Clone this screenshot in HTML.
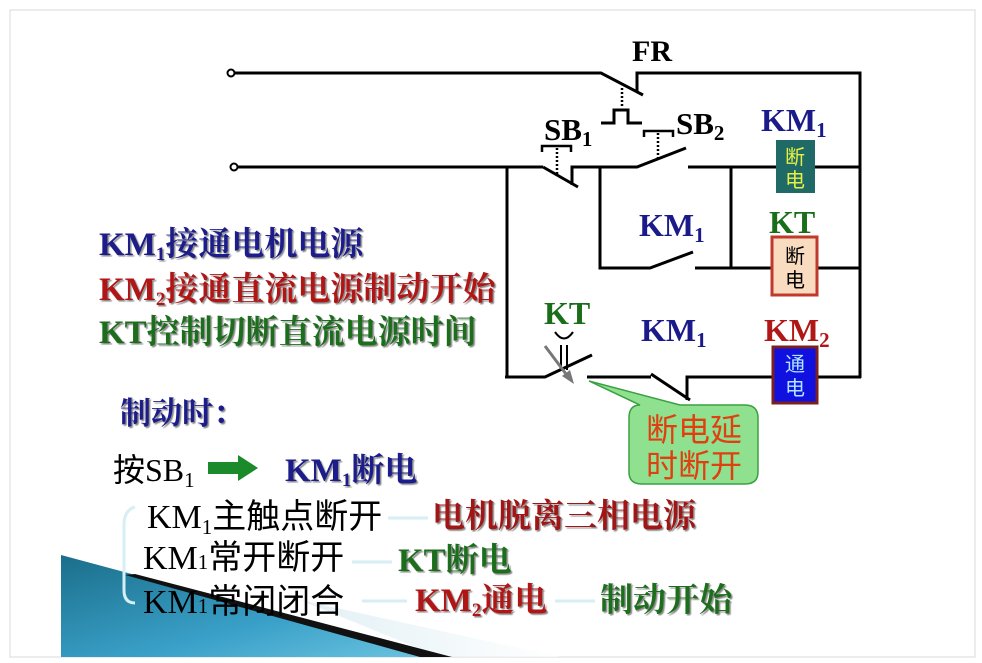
<!DOCTYPE html>
<html><head><meta charset="utf-8"><style>
body{margin:0;background:#fff}
svg{display:block}
.b{font-family:"Liberation Serif","Noto Serif CJK SC",serif;font-weight:bold}
.s{font-family:"Liberation Serif","Noto Sans CJK SC",serif}
</style></head><body>
<svg width="982" height="663" viewBox="0 0 982 663" xmlns="http://www.w3.org/2000/svg">
<defs>
<linearGradient id="bl" x1="0" y1="0" x2="1" y2="1">
<stop offset="0" stop-color="#1a6e8a"/><stop offset="0.6" stop-color="#3aa0c8"/><stop offset="1" stop-color="#6cc4e0"/></linearGradient>
<linearGradient id="wf" x1="0" y1="0" x2="1" y2="0">
<stop offset="0" stop-color="#cfe6ee"/><stop offset="1" stop-color="#ffffff"/></linearGradient>
<filter id="sh"><feDropShadow dx="1.5" dy="1.5" stdDeviation="0.5" flood-color="#555" flood-opacity="0.7"/></filter>
</defs>
<rect x="10" y="10" width="965" height="647" fill="#fff" stroke="#d8d8d8" stroke-width="1"/>
<polygon points="440,657 560,657 300,600" fill="url(#wf)" opacity="0.6"/>
<polygon points="61,555 440,657 61,657" fill="url(#bl)"/>
<polygon points="125,575 135,574 452,657 420,657" fill="#111"/>
<g stroke="#000" stroke-width="3" fill="none">
<polyline points="233,73 601,73 643,95"/>
<polyline points="637,92 637,73 860,73 860,378"/>
<polyline points="601,123 614,123 614,110 628,110 628,123 642,123"/>
<line x1="236" y1="167" x2="543" y2="167"/>
<line x1="543" y1="167" x2="578" y2="187"/>
<polyline points="572,185 572,167 637,167 686,148"/>
<line x1="688" y1="167" x2="776" y2="167"/>
<line x1="815" y1="167" x2="860" y2="167"/>
<polyline points="542,152 542,146 571,146 571,152" stroke-width="2.5"/>
<polyline points="644,137 644,131 673,131 673,137" stroke-width="2.5"/>
<line x1="507" y1="167" x2="507" y2="378"/>
<polyline points="600,167 600,268 650,268 693,252"/>
<line x1="731" y1="167" x2="731" y2="268"/>
<line x1="695" y1="268" x2="771" y2="268"/>
<line x1="818" y1="268" x2="860" y2="268"/>
<polyline points="505,377 545,377 592,355"/>
<line x1="587" y1="377" x2="651" y2="377"/>
<line x1="651" y1="374" x2="690" y2="400"/>
<polyline points="687,400 687,377 772,377"/>
<line x1="818" y1="377" x2="861" y2="377"/>
<line x1="561" y1="345" x2="561" y2="370" stroke-width="2"/>
<line x1="567" y1="345" x2="567" y2="370" stroke-width="2"/>
<path d="M555,332 Q564,345 573,332" stroke-width="2"/>
</g>
<g stroke="#000" stroke-width="2.5" stroke-dasharray="2,2">
<line x1="622" y1="88" x2="622" y2="108"/>
<line x1="557" y1="148" x2="557" y2="176"/>
<line x1="658" y1="133" x2="658" y2="158"/>
</g>
<line x1="545" y1="346" x2="569" y2="378" stroke="#777" stroke-width="3"/>
<polygon points="574,384 562,376 570,370" fill="#777"/>
<circle cx="231" cy="73" r="3.5" fill="#fff" stroke="#000" stroke-width="2"/>
<circle cx="234" cy="167" r="3.5" fill="#fff" stroke="#000" stroke-width="2"/>
<rect x="776" y="140" width="39" height="53" fill="#1f6a66"/>
<text x="795" y="164" font-size="20" fill="#e8f040" text-anchor="middle" class="s">断</text>
<text x="795" y="187" font-size="20" fill="#e8f040" text-anchor="middle" class="s">电</text>
<rect x="772" y="237" width="45" height="58" fill="#f9dcc0" stroke="#c0392b" stroke-width="3"/>
<text x="795" y="263" font-size="20" fill="#000" text-anchor="middle" class="s">断</text>
<text x="795" y="287" font-size="20" fill="#000" text-anchor="middle" class="s">电</text>
<rect x="773" y="347" width="44" height="56" fill="#1010e0" stroke="#7a2020" stroke-width="3"/>
<text x="795" y="371" font-size="20" fill="#aee8ff" text-anchor="middle" class="s">通</text>
<text x="795" y="395" font-size="20" fill="#aee8ff" text-anchor="middle" class="s">电</text>
<path d="M640,405 L589,381 L680,405 L745,405 Q758,405 758,418 L758,472 Q758,484 745,484 L642,484 Q629,484 629,472 L629,418 Q629,405 640,405 Z" fill="#8fe08f" stroke="#3aa040" stroke-width="1.5"/>
<text x="694" y="441" font-size="32" fill="#e04010" text-anchor="middle" class="s">断电延</text>
<text x="694" y="477" font-size="32" fill="#e04010" text-anchor="middle" class="s">时断开</text>
<text x="632" y="61" font-size="30" class="b">FR</text>
<text x="544" y="140" font-size="31" class="b">SB<tspan font-size="21" dy="6">1</tspan></text>
<text x="676" y="134" font-size="31" class="b">SB<tspan font-size="21" dy="6">2</tspan></text>
<text x="761" y="131" font-size="32" class="b" fill="#1a1a8a">KM<tspan font-size="21" dy="6">1</tspan></text>
<text x="769" y="233" font-size="32" class="b" fill="#1a6e1a">KT</text>
<text x="639" y="236" font-size="32" class="b" fill="#1a1a8a">KM<tspan font-size="21" dy="6">1</tspan></text>
<text x="544" y="324" font-size="32" class="b" fill="#1a6e1a">KT</text>
<text x="641" y="341" font-size="32" class="b" fill="#1a1a8a">KM<tspan font-size="21" dy="6">1</tspan></text>
<text x="764" y="341" font-size="32" class="b" fill="#b01818">KM<tspan font-size="21" dy="6">2</tspan></text>
<g filter="url(#sh)" class="b" font-size="33">
<text x="99" y="255" fill="#1a1a8a">KM<tspan font-size="19" dy="5">1</tspan><tspan dy="-5">接通电机电源</tspan></text>
<text x="99" y="300" fill="#b01818">KM<tspan font-size="19" dy="5">2</tspan><tspan dy="-5">接通直流电源制动开始</tspan></text>
<text x="99" y="343" fill="#1a6e1a">KT控制切断直流电源时间</text>
<text x="120" y="424" fill="#1a1a8a" font-size="31">制动时：</text>
<text x="285" y="481" fill="#1a1a8a">KM<tspan font-size="19" dy="5">1</tspan><tspan dy="-5">断电</tspan></text>
<text x="432" y="527" fill="#a01818">电机脱离三相电源</text>
<text x="398" y="571" fill="#1a6e1a">KT断电</text>
<text x="415" y="611" fill="#b01818">KM<tspan font-size="19" dy="5">2</tspan><tspan dy="-5">通电</tspan></text>
<text x="600" y="611" fill="#1a6e1a">制动开始</text>
</g>
<text x="113" y="481" font-size="32" class="s">按SB<tspan font-size="21" dy="6">1</tspan></text>
<polygon points="208,462 238,462 238,455 258,468 238,481 238,474 208,474" fill="#1a8a2a"/>
<text x="147" y="528" font-size="34" class="s">KM<tspan font-size="21" dy="6">1</tspan><tspan dy="-6">主触点断开</tspan></text>
<text x="143" y="569" font-size="34" class="s">KM<tspan font-size="21">1</tspan>常开断开</text>
<text x="143" y="613" font-size="34" class="s">KM<tspan font-size="21">1</tspan>常闭闭合</text>
<g stroke="#d6eef4" stroke-width="3" fill="none">
<line x1="388" y1="518" x2="428" y2="518"/>
<line x1="352" y1="562" x2="392" y2="562"/>
<line x1="362" y1="601" x2="407" y2="601"/>
<line x1="555" y1="601" x2="595" y2="601"/>
<path d="M135,507 Q124,510 124,525 L124,590 Q124,603 135,603"/>
</g>
</svg>
</body></html>
